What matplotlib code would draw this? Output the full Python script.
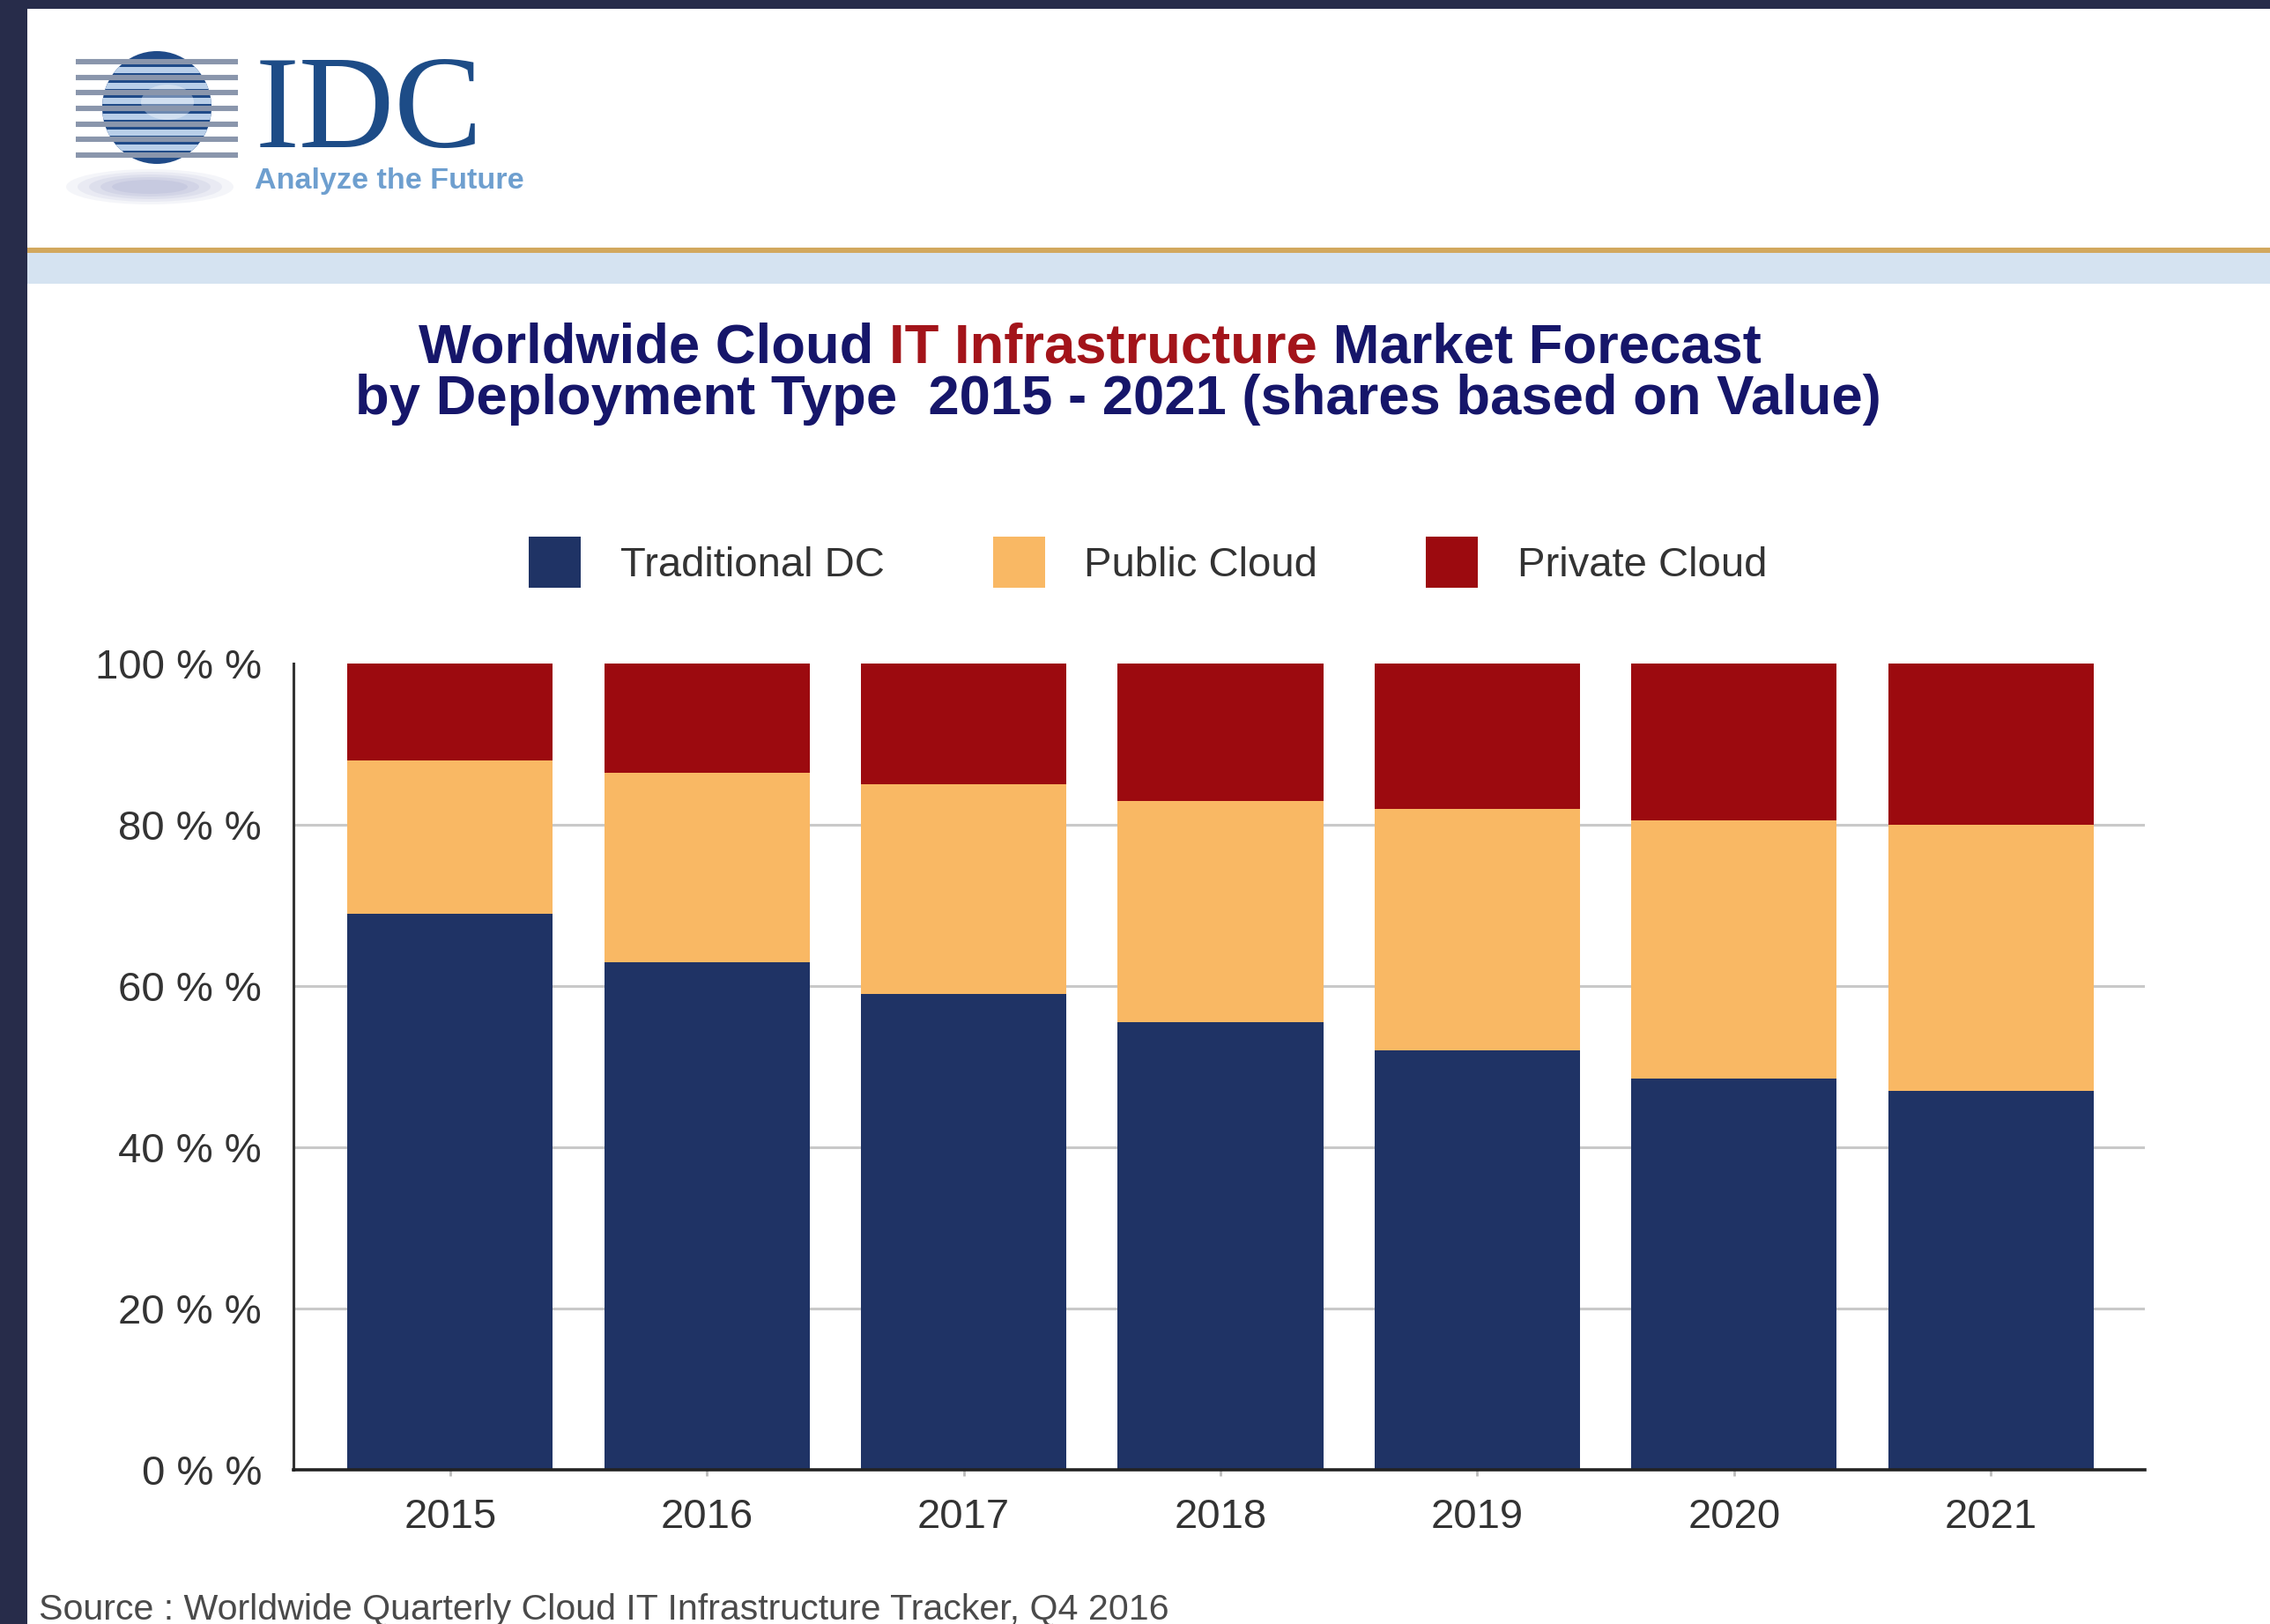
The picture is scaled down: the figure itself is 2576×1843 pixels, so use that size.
import matplotlib
matplotlib.use("Agg")
import matplotlib.pyplot as plt
from matplotlib.patches import Rectangle, Ellipse, Patch
import numpy as np

# ---- data -------------------------------------------------------------
years = ["2015", "2016", "2017", "2018", "2019", "2020", "2021"]
traditional_dc = [69, 63, 59, 55.5, 52, 48.5, 47]
public_cloud = [19, 23.5, 26, 27.5, 30, 32, 33]
private_cloud = [12, 13.5, 15, 17, 18, 19.5, 20]
series_names = ["Traditional DC", "Public Cloud", "Private Cloud"]
y_ticks = [0, 20, 40, 60, 80, 100]
y_tick_labels = ["0 % %", "20 % %", "40 % %", "60 % %", "80 % %", "100 % %"]

# ---- styling ----------------------------------------------------------
NAVY = "#1F3365"
ORANGE = "#F9B864"
RED = "#9C0A0F"
FRAME = "#272C4A"
TITLE_BLUE = "#16166A"
TITLE_RED = "#A3141A"
TEXT = "#333333"
FONT = ["Liberation Sans", "DejaVu Sans"]
plt.rcParams["font.family"] = FONT

W, H = 2576, 1843
DPI = 200
fig = plt.figure(figsize=(W / DPI, H / DPI), dpi=DPI)
fig.patch.set_facecolor(FRAME)

# full-figure layer in pixel units for the page decoration
bg = fig.add_axes([0, 0, 1, 1], zorder=0)
bg.set_xlim(0, W)
bg.set_ylim(H, 0)
bg.axis("off")

bg.add_patch(Rectangle((31, 10), W - 31, H - 10, facecolor="white", edgecolor="none"))
# header rule and pale band
bg.add_patch(Rectangle((31, 281), W - 31, 6, facecolor="#D2A85E", edgecolor="none"))
bg.add_patch(Rectangle((31, 287), W - 31, 35, facecolor="#D5E3F1", edgecolor="none"))

# ---- logo -------------------------------------------------------------
for k, a in enumerate([0.10, 0.12, 0.14, 0.16, 0.18]):
    bg.add_patch(Ellipse((170, 212), 190 - 26 * k, 40 - 6 * k,
                         facecolor="#9AA0C8", edgecolor="none", alpha=a))
stripe_y = np.linspace(70, 176, 7)
for yy in stripe_y:
    bg.plot([86, 270], [yy, yy], color="#8A96AC", lw=2.2, solid_capstyle="butt")
globe = Ellipse((178, 122), 124, 128, facecolor="#1F4A88", edgecolor="none")
bg.add_patch(globe)
for yy in stripe_y[:-1]:
    band = Rectangle((110, yy + 6), 140, 7, facecolor="#B9CFE9", edgecolor="none")
    bg.add_patch(band)
    band.set_clip_path(globe)
hl = Ellipse((190, 116), 60, 40, facecolor="white", edgecolor="none", alpha=0.35)
bg.add_patch(hl)
hl.set_clip_path(globe)

bg.text(290, 167, "IDC", family=["Liberation Serif", "DejaVu Serif"], fontsize=54,
        color="#1D4C87", ha="left", va="baseline")
bg.text(289, 214, "Analyze the Future", fontsize=12.3, fontweight="bold",
        color="#6E9FCF", ha="left", va="baseline")

# ---- title ------------------------------------------------------------
title_kw = dict(fontsize=22.8, fontweight="bold")
t1 = bg.text(475, 411, "Worldwide Cloud ", color=TITLE_BLUE, ha="left",
             va="baseline", **title_kw)
t2 = bg.annotate("IT Infrastructure", xy=(1, 0), xycoords=t1, color=TITLE_RED,
                 ha="left", va="bottom", **title_kw)
bg.annotate(" Market Forecast", xy=(1, 0), xycoords=t2, color=TITLE_BLUE,
            ha="left", va="bottom", **title_kw)
bg.text(403, 470, "by Deployment Type  2015 - 2021 (shares based on Value)",
        color=TITLE_BLUE, ha="left", va="baseline", **title_kw)

# ---- chart ------------------------------------------------------------
left, right = 333 / W, 2434 / W
bottom, top = 1 - 1668 / H, 1 - 753 / H
ax = fig.add_axes([left, bottom, right - left, top - bottom], zorder=1)
ax.patch.set_alpha(0)

x = np.arange(len(years))
trad = np.array(traditional_dc)
pub = np.array(public_cloud)
priv = np.array(private_cloud)
bw = 0.8
ax.bar(x, trad, width=bw, color=NAVY, zorder=3, label=series_names[0])
ax.bar(x, pub, width=bw, bottom=trad, color=ORANGE, zorder=3, label=series_names[1])
ax.bar(x, priv, width=bw, bottom=trad + pub, color=RED, zorder=3, label=series_names[2])

ax.set_xlim(-0.61, len(years) - 1 + 0.60)
ax.set_ylim(0, 100)
ax.set_xticks(x, years)
ax.set_yticks(y_ticks, y_tick_labels)
ax.yaxis.grid(True, color="#C9C9C9", lw=1.1, zorder=0)
ax.get_ygridlines()[-1].set_visible(False)
ax.get_ygridlines()[0].set_visible(False)

for side in ("top", "right"):
    ax.spines[side].set_visible(False)
ax.spines["left"].set_color("#333333")
ax.spines["left"].set_linewidth(1.1)
ax.spines["bottom"].set_color("#222222")
ax.spines["bottom"].set_linewidth(1.3)
ax.spines["bottom"].set_zorder(4)

ax.tick_params(axis="x", length=2.5, width=1, color="#BBBBBB", pad=9,
               labelsize=17, labelcolor=TEXT)
ax.tick_params(axis="y", length=0, pad=13, labelsize=17, labelcolor=TEXT)

handles = [Patch(facecolor=c, edgecolor="none") for c in (NAVY, ORANGE, RED)]
fig.legend(handles, series_names, loc="center left",
           bbox_to_anchor=(600 / W, 1 - 638 / H), ncol=3, frameon=False,
           fontsize=17, labelcolor=TEXT, handlelength=1.25, handleheight=1.5,
           handletextpad=0.95, columnspacing=2.6, borderpad=0, borderaxespad=0)

# ---- source note ------------------------------------------------------
bg.text(44, 1838, "Source : Worldwide Quarterly Cloud IT Infrastructure Tracker, Q4 2016",
        fontsize=14.8, color="#4A4A4A", ha="left", va="baseline")

fig.savefig("out.png", dpi=DPI, facecolor=fig.get_facecolor())
